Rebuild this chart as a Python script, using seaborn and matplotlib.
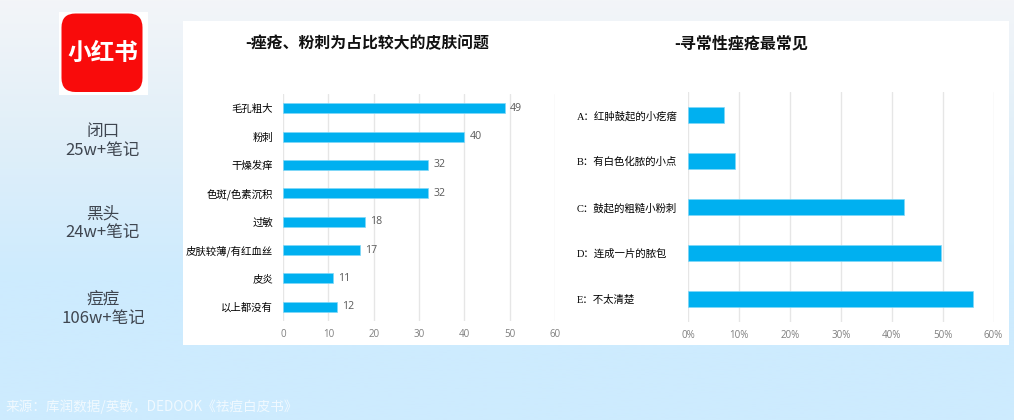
"""Skin problem survey slide: two horizontal bar charts with a side column."""

import numpy as np
import pandas as pd
import matplotlib
matplotlib.use("Agg")
import matplotlib.pyplot as plt
from matplotlib.colors import LinearSegmentedColormap
from matplotlib.patches import FancyBboxPatch, Rectangle
from matplotlib.ticker import PercentFormatter
import seaborn as sns

problem_labels = ["毛孔粗大", "粉刺", "干燥发痒", "色斑/色素沉积", "过敏",
                  "皮肤较薄/有红血丝", "皮炎", "以上都没有"]
problem_values = [49, 40, 32, 32, 18, 17, 11, 12]

acne_labels = ["A：红肿鼓起的小疙瘩", "B：有白色化脓的小点", "C：鼓起的粗糙小粉刺",
               "D：连成一片的脓包", "E：不太清楚"]
acne_values = [0.071, 0.092, 0.425, 0.497, 0.559]

side_notes = [("闭口", "25w+笔记", 140), ("黑头", "24w+笔记", 223), ("痘痘", "106w+笔记", 308)]

title_left = "-痤疮、粉刺为占比较大的皮肤问题"
title_right = "-寻常性痤疮最常见"
source_text = "来源：库润数据/英敏，DEDOOK《祛痘白皮书》"

W, H = 1014, 420
BAR_COLOR = "#00b0f0"
NUMBER_FONT = ["Open Sans", "DejaVu Sans"]


def axes_from_pixels(fig, left, top, right, bottom):
    return fig.add_axes([left / W, 1 - bottom / H, (right - left) / W, (bottom - top) / H])


def draw_bars(ax, labels, values, xmax, tick_step):
    df = pd.DataFrame({"label": labels, "value": values})
    sns.barplot(data=df, x="value", y="label", orient="h", color=BAR_COLOR, saturation=1,
                width=0.35, edgecolor="#7fd8f8", linewidth=0.5, ax=ax, zorder=3)
    ax.set_xlim(0, xmax)
    ax.set_xticks(np.arange(0, xmax + tick_step / 2, tick_step))
    ax.set_xlabel("")
    ax.set_ylabel("")
    ax.patch.set_alpha(0)
    ax.grid(axis="x", color="#e6e6e6", linewidth=1)
    ax.grid(axis="y", visible=False)
    ax.set_axisbelow(True)
    sns.despine(ax=ax, left=True, bottom=True, top=True, right=True)
    ax.tick_params(axis="x", length=0, labelsize=7, labelcolor="#7f7f7f", pad=6)
    ax.tick_params(axis="y", length=0, labelsize=7.5, labelcolor="#000000", pad=7)
    for tick in ax.get_xticklabels():
        tick.set_fontfamily(NUMBER_FONT)


sns.set_theme(style="white")
plt.rcParams["font.family"] = ["Noto Sans CJK SC", "DejaVu Sans"]
plt.rcParams["axes.unicode_minus"] = False

fig = plt.figure(figsize=(W / 100, H / 100), dpi=100)

# background, panel and logo are laid out in pixel coordinates
bg = fig.add_axes([0, 0, 1, 1])
bg.set_xlim(0, W)
bg.set_ylim(H, 0)
bg.axis("off")
cmap = LinearSegmentedColormap.from_list("slide", ["#f3f5f8", "#e0eff9", "#cdebfe", "#cdebfe"])
bg.imshow(np.linspace(0, 1, 256).reshape(-1, 1), cmap=cmap, aspect="auto",
          extent=(0, W, H, 0), zorder=0)
bg.add_patch(Rectangle((183, 21), 826, 324, facecolor="white", edgecolor="none", zorder=1))

bg.add_patch(Rectangle((59, 12), 89, 83, facecolor="white", edgecolor="none", zorder=1))
bg.add_patch(FancyBboxPatch((61.5, 13.5), 81, 78.5, boxstyle="round,pad=0,rounding_size=14",
                            facecolor="#f90b0b", edgecolor="none", zorder=2))
bg.text(102.5, 53, "小红书", color="white", fontsize=17, fontweight="bold",
        ha="center", va="center", zorder=3)

for name, note, y in side_notes:
    bg.text(103, y - 9, name, color="#3f4650", fontsize=12, fontweight="light",
            ha="center", va="center", zorder=3)
    bg.text(103, y + 10, note, color="#3f4650", fontsize=12, fontweight="light",
            ha="center", va="center", zorder=3)

bg.text(367.5, 43, title_left, color="#111111", fontsize=11.4, fontweight="bold",
        ha="center", va="center", zorder=3)
bg.text(741, 43, title_right, color="#111111", fontsize=11.5, fontweight="bold",
        ha="center", va="center", zorder=3)
bg.text(6, 407, source_text, color="#f0f9ff", fontsize=9.8, ha="left", va="center", zorder=3)

ax_left = axes_from_pixels(fig, 283, 94, 555, 321)
draw_bars(ax_left, problem_labels, problem_values, 60, 10)
ax_left.bar_label(ax_left.containers[0], fontsize=7.6, color="#595959", padding=3.6,
                  fontfamily=NUMBER_FONT)

ax_right = axes_from_pixels(fig, 688, 92, 993.5, 322)
draw_bars(ax_right, acne_labels, acne_values, 0.6, 0.1)
ax_right.xaxis.set_major_formatter(PercentFormatter(xmax=1, decimals=0))
# these labels start at a common left edge, with a serif latin letter
ax_right.tick_params(axis="y", pad=80)
for tick in ax_right.get_yticklabels():
    tick.set_ha("left")
    tick.set_fontfamily(["Liberation Serif", "Noto Sans CJK SC"])

fig.savefig("out.png", dpi=100)
